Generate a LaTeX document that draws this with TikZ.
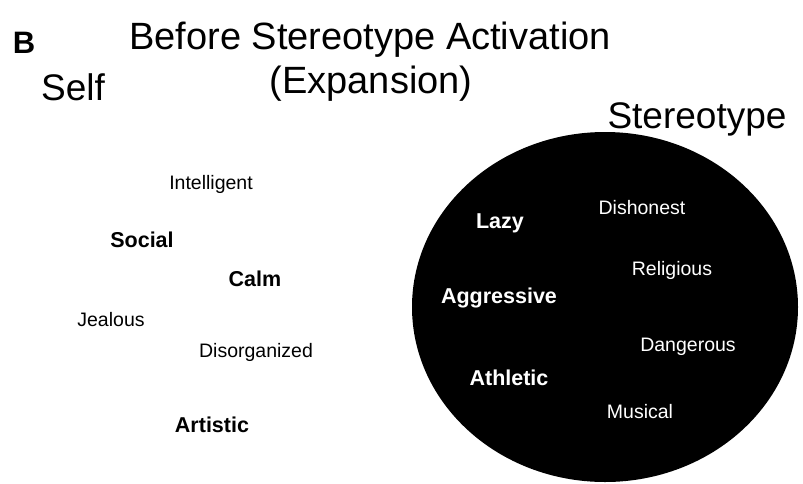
\documentclass[tikz,border=0pt]{standalone}
\usepackage{fontspec}
\setmainfont{Liberation Sans}

\begin{document}
\begin{tikzpicture}[x=1pt, y=-1pt,
  heading/.style={anchor=base, inner sep=0pt, font=\fontsize{37}{44}\selectfont},
  word/.style={anchor=base, inner sep=0pt, font=\fontsize{19.5}{23}\selectfont},
  strongword/.style={word, font=\fontsize{21.5}{25}\selectfont\bfseries}]

\useasboundingbox (0,0) rectangle (803,483);

% panel letter and titles
\node [anchor=base, inner sep=0pt, font=\fontsize{31}{36}\selectfont\bfseries] (panel) at (24,53) {B};
\node [heading, font=\fontsize{38}{44}\selectfont] (title) at (370,49) {Before Stereotype Activation};
\node [heading, font=\fontsize{38}{44}\selectfont] (subtitle) at (371,93) {(Expansion)};
\node [heading] (self) at (73,100) {Self};
\node [heading] (stereo) at (697,128) {Stereotype};

% the stereotype set
\fill [black] (605,307) ellipse [x radius=193, y radius=175];

% traits near the self
\node [word] (intelligent) at (211,189) {Intelligent};
\node [strongword] (social) at (142,247) {Social};
\node [strongword] (calm) at (255,286) {Calm};
\node [word] (jealous) at (111,326) {Jealous};
\node [word] (disorganized) at (256,357) {Disorganized};
\node [strongword] (artistic) at (212,432) {Artistic};

% traits inside the stereotype
\node [strongword, white] (lazy) at (500,228) {Lazy};
\node [word, white] (dishonest) at (642,214) {Dishonest};
\node [word, white] (religious) at (672,275) {Religious};
\node [strongword, white] (aggressive) at (499,303) {Aggressive};
\node [word, white] (dangerous) at (688,351) {Dangerous};
\node [strongword, white] (athletic) at (509,385) {Athletic};
\node [word, white] (musical) at (640,418) {Musical};
\end{tikzpicture}
\end{document}
